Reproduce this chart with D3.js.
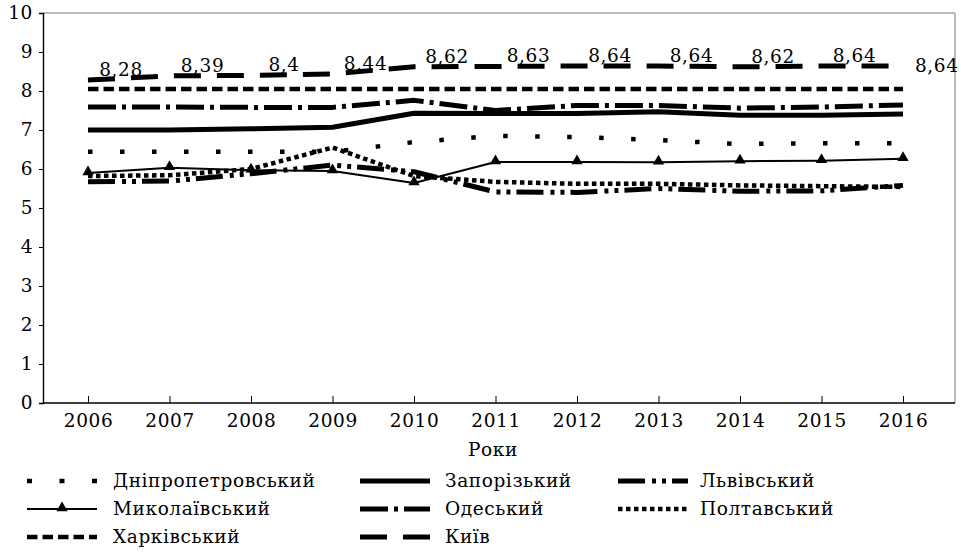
<!DOCTYPE html>
<html>
<head>
<meta charset="utf-8">
<script src="https://cdn.jsdelivr.net/npm/d3@7"></script>
<style>
  body { margin: 0; background: #fff; }
  text { font-family: "DejaVu Serif", serif; font-size: 18.5px; letter-spacing: 0.6px; fill: #000; }
</style>
</head>
<body>
<div id="my_dataviz"></div>
<script>
    // years on x axis
    var years = [2006, 2007, 2008, 2009, 2010, 2011, 2012, 2013, 2014, 2015, 2016];
    var yTicks = [0, 1, 2, 3, 4, 5, 6, 7, 8, 9, 10];

    // series values
    var dnipro  = [6.44, 6.44, 6.44, 6.44, 6.69, 6.85, 6.82, 6.74, 6.64, 6.66, 6.66];
    var zapor   = [7.0, 7.0, 7.03, 7.07, 7.43, 7.42, 7.42, 7.47, 7.38, 7.38, 7.41];
    var lviv    = [5.67, 5.69, 5.88, 6.1, 5.93, 5.41, 5.4, 5.5, 5.43, 5.44, 5.58];
    var mykol   = [5.9, 6.03, 5.97, 5.95, 5.64, 6.18, 6.18, 6.17, 6.2, 6.21, 6.26];
    var odesa   = [7.59, 7.59, 7.58, 7.58, 7.76, 7.5, 7.63, 7.63, 7.56, 7.59, 7.64];
    var poltava = [5.82, 5.84, 6.0, 6.55, 5.82, 5.67, 5.62, 5.62, 5.58, 5.56, 5.54];
    var kharkiv = [8.05, 8.05, 8.05, 8.05, 8.05, 8.05, 8.05, 8.05, 8.05, 8.05, 8.05];
    var kyiv    = [8.28, 8.39, 8.4, 8.44, 8.62, 8.63, 8.64, 8.64, 8.62, 8.64, 8.64];
    var kyivLabels = ["8,28", "8,39", "8,4", "8,44", "8,62", "8,63", "8,64", "8,64", "8,62", "8,64", "8,64"];

    var names = ["Дніпропетровський", "Запорізький", "Львівський", "Миколаївський",
                 "Одеський", "Полтавський", "Харківський", "Київ"];

    // line styles, same order as names
    var styles = [
      {values: dnipro,  width: 4.5, dash: "4.5 27.5"},
      {values: zapor,   width: 5,   dash: null},
      {values: lviv,    width: 5,   dash: "27 7 4 6 4 6"},
      {values: mykol,   width: 2,   dash: null, marker: true},
      {values: odesa,   width: 5,   dash: "28 6 4 6"},
      {values: poltava, width: 4.5, dash: "4.5 3.5"},
      {values: kharkiv, width: 4.5, dash: "10.5 5"},
      {values: kyiv,    width: 5,   dash: "27 16"}
    ];

    var W = 961, H = 554;
    var box = {left: 43, right: 955, top: 13, bottom: 403};

    var svg = d3.select("#my_dataviz")
      .append("svg")
        .attr("width", W)
        .attr("height", H);

    var x = d3.scaleLinear()
      .domain([2006, 2016])
      .range([88, 903]);

    var y = d3.scaleLinear()
      .domain([0, 10])
      .range([box.bottom, box.top]);

    // plot frame: thin grey top / right
    svg.append("path")
      .attr("d", "M" + box.left + "," + box.top + "H" + box.right + "V" + box.bottom)
      .attr("fill", "none")
      .attr("stroke", "#777")
      .attr("stroke-width", 1);

    // y axis
    var yAxis = svg.append("g")
      .attr("transform", "translate(" + box.left + ",0)")
      .call(d3.axisLeft(y).tickValues(yTicks).tickSize(4).tickPadding(6).tickFormat(d3.format("d")));
    yAxis.select(".domain").attr("stroke", "#000").attr("stroke-width", 1.4);
    yAxis.selectAll("text").attr("font-family", null).attr("font-size", null);

    // x axis, ticks pointing inward
    var xAxis = svg.append("g")
      .attr("transform", "translate(0," + box.bottom + ")")
      .call(d3.axisBottom(x).tickValues(years).tickSizeInner(-7).tickSizeOuter(0).tickPadding(11).tickFormat(d3.format("d")));
    xAxis.select(".domain")
      .attr("d", "M" + box.left + ",0H" + box.right)
      .attr("stroke", "#000").attr("stroke-width", 1.4);
    xAxis.selectAll("text").attr("font-family", null).attr("font-size", null).attr("dy", "0.71em");

    svg.append("text")
      .attr("x", 493)
      .attr("y", 456)
      .attr("text-anchor", "middle")
      .text("Роки");

    var line = d3.line()
      .x(function(d, i) { return x(years[i]); })
      .y(function(d) { return y(d); });

    // draw series
    styles.forEach(function(s) {
      svg.append("path")
        .datum(s.values)
        .attr("d", line)
        .attr("fill", "none")
        .attr("stroke", "#000")
        .attr("stroke-width", s.width)
        .attr("stroke-dasharray", s.dash)
        .attr("stroke-linejoin", "round");

      if (s.marker) {
        svg.append("g")
          .selectAll("path")
          .data(s.values)
          .enter()
          .append("path")
            .attr("d", d3.symbol().type(d3.symbolTriangle).size(55))
            .attr("transform", function(d, i) { return "translate(" + x(years[i]) + "," + (y(d) - 1) + ")"; })
            .attr("fill", "#000");
      }
    });

    // data labels for Київ
    svg.append("g")
      .selectAll("text")
      .data(kyiv)
      .enter()
      .append("text")
        .attr("x", function(d, i) { return i < kyiv.length - 1 ? x(years[i]) + 33 : x(years[i]) + 12; })
        .attr("y", function(d, i) { return i < kyiv.length - 1 ? y(d) - 4 : y(d) + 6; })
        .attr("text-anchor", function(d, i) { return i < kyiv.length - 1 ? "middle" : "start"; })
        .text(function(d, i) { return kyivLabels[i]; });

    // legend: 3 columns
    var colSwatch = [27, 360, 618];
    var colText = [113, 445, 700];
    var rowBase = [487, 515, 543];

    names.forEach(function(name, k) {
      var col = k % 3, row = Math.floor(k / 3);
      var s = styles[k];
      var g = svg.append("g");
      var ly = rowBase[row] - 6;
      g.append("line")
        .attr("x1", colSwatch[col])
        .attr("x2", colSwatch[col] + 70)
        .attr("y1", ly)
        .attr("y2", ly)
        .attr("stroke", "#000")
        .attr("stroke-width", s.width)
        .attr("stroke-dasharray", k === 0 ? "5 27.5" : s.dash);
      if (s.marker) {
        g.append("path")
          .attr("d", d3.symbol().type(d3.symbolTriangle).size(55))
          .attr("transform", "translate(" + (colSwatch[col] + 35) + "," + (ly - 1) + ")");
      }
      g.append("text")
        .attr("x", colText[col])
        .attr("y", rowBase[row])
        .text(name);
    });
</script>
</body>
</html>
